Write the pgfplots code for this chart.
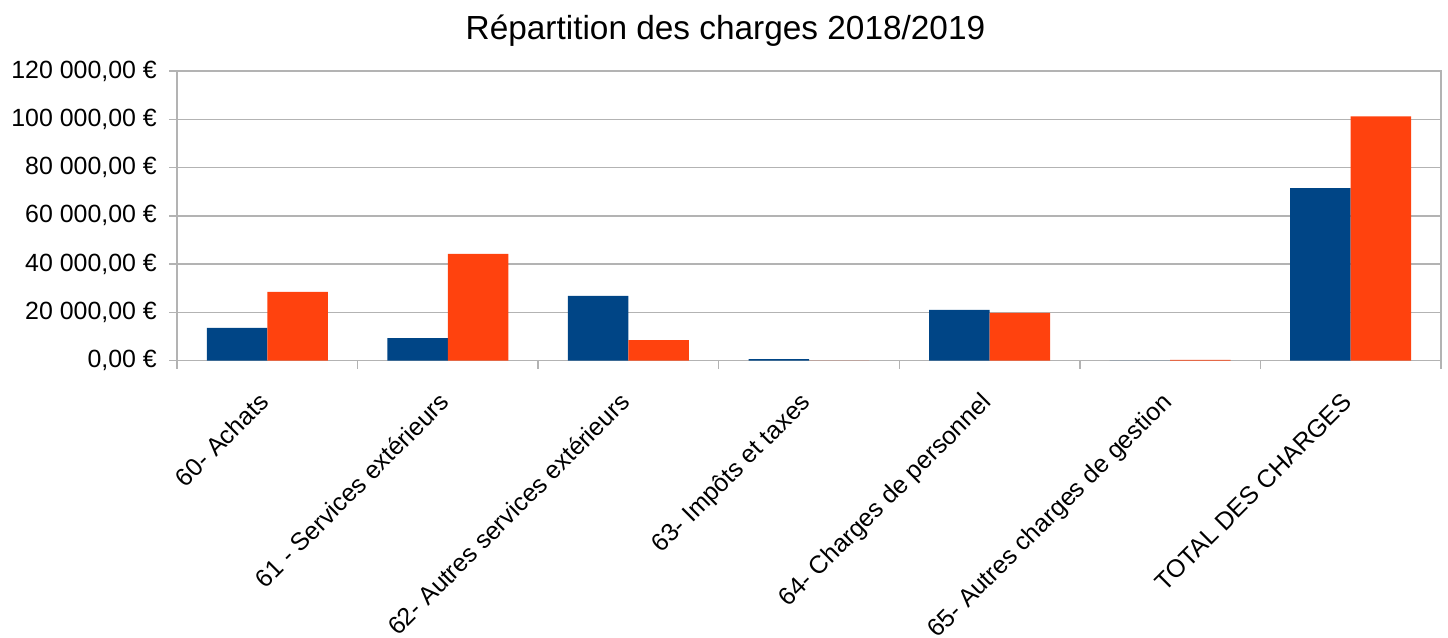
\documentclass[border=0pt]{standalone}
\usepackage{pgfplots}
\pgfplotsset{compat=1.18}
\usepackage{fontspec}
\setmainfont{Liberation Sans}
\definecolor{sblue}{HTML}{004586}
\definecolor{sorange}{HTML}{FF420E}
\definecolor{gridgray}{HTML}{B3B3B3}
\newcommand{\lab}[1]{\mbox{#1}}
\begin{document}
\begin{tikzpicture}
\begin{axis}[
  name=ax,
  scale only axis, width=1264bp, height=289.5bp,
  xmin=-0.5, xmax=6.5, ymin=0, ymax=120000,
  ybar=0pt, bar width=0.335,
  xtick={0,...,6},
  xticklabels={{60- Achats},{61 - Services extérieurs},{62- Autres services extérieurs},{63- Impôts et taxes},{64- Charges de personnel},{65- Autres charges de gestion},{TOTAL DES CHARGES}},
  minor xtick={-0.5,0.5,...,6.5},
  ytick={0,20000,40000,60000,80000,100000,120000},
  yticklabels={{\lab{0,00~€}},{\lab{20~000,00~€}},{\lab{40~000,00~€}},{\lab{60~000,00~€}},{\lab{80~000,00~€}},{\lab{100~000,00~€}},{\lab{120~000,00~€}}},
  scaled y ticks=false,
  ymajorgrids, major grid style={gridgray, line width=1.5bp},
  axis line style={gridgray, line width=1.5bp},
  tick align=outside, tick pos=left,
  major tick length=8bp, minor tick length=8bp,
  major x tick style={draw=none},
  minor x tick style={gridgray, line width=1.5bp},
  y tick style={gridgray, line width=1.5bp},
  tick label style={font=\fontsize{25}{30}\selectfont, text=black},
  yticklabel style={anchor=east, inner sep=0pt, xshift=-12bp},
  xticklabel style={rotate=45, anchor=base east, inner sep=0pt, xshift=-23bp, yshift=-27bp},
  title={Répartition des charges 2018/2019},
  title style={font=\fontsize{33.5}{38}\selectfont, anchor=base, at={(0.5,1)}, yshift=26bp, xshift=-83.5bp},
]
\addplot[fill=sblue, draw=none] coordinates {(0,13500) (1,9300) (2,26800) (3,600) (4,21000) (5,0) (6,71500)};
\addplot[fill=sorange, draw=none] coordinates {(0,28400) (1,44200) (2,8500) (3,0) (4,19700) (5,300) (6,101200)};
\end{axis}
\pgfresetboundingbox
\path[use as bounding box] ([xshift=-177bp,yshift=-276.5bp]ax.south west) rectangle ([xshift=7bp,yshift=71bp]ax.north east);
\end{tikzpicture}
\end{document}
